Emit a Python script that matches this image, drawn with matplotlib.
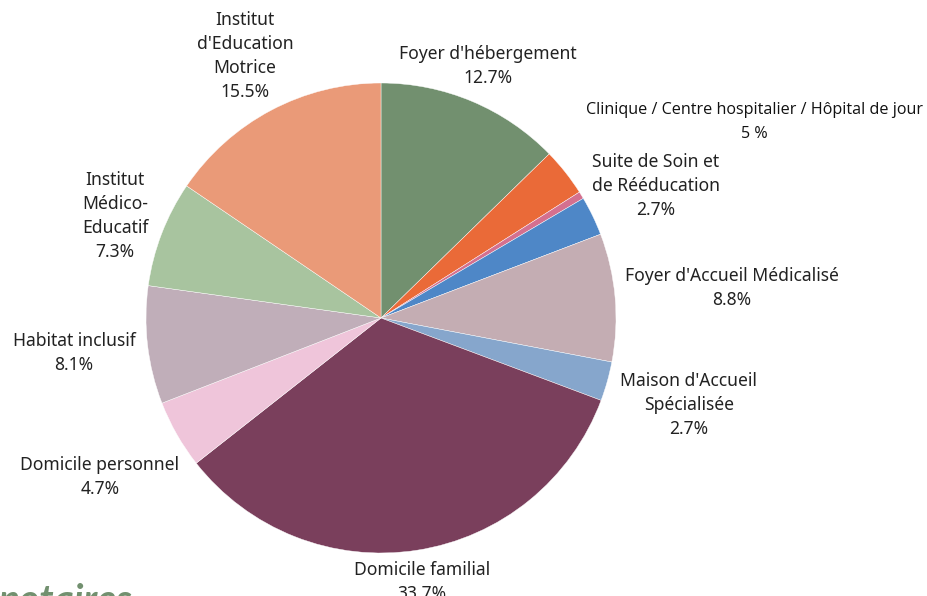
import matplotlib
matplotlib.use("Agg")
import matplotlib.pyplot as plt

categories = [
    "Foyer d'hébergement",
    "Clinique / Centre hospitalier / Hôpital de jour",
    "Autre",
    "Suite de Soin et\nde Rééducation",
    "Foyer d'Accueil Médicalisé",
    "Maison d'Accueil\nSpécialisée",
    "Domicile familial",
    "Domicile personnel",
    "Habitat inclusif",
    "Institut\nMédico-\nEducatif",
    "Institut\nd'Education\nMotrice",
]
values = [12.7, 3.3, 0.5, 2.7, 8.8, 2.7, 33.7, 4.7, 8.1, 7.3, 15.5]
pct_labels = ["12.7%", "5 %", "", "2.7%", "8.8%", "2.7%", "33.7%", "4.7%", "8.1%", "7.3%", "15.5%"]
colors = ["#72906F", "#EA6A38", "#D4708F", "#4E87C7", "#C4ADB3", "#86A6CC",
          "#7A3F5C", "#EFC5DA", "#C0AEB9", "#A8C49F", "#EA9A78"]

# label centres in pixel coordinates of the figure (layout only)
label_px = [(488, 66), (754, 122), None, (656, 186), (732, 288), (689, 405),
            (422, 582), (100, 477), (74, 353), (115, 216), (245, 56)]

W, H = 927, 596
fig = plt.figure(figsize=(W / 100, H / 100), dpi=100)
cx, cy, r = 381, 318, 235
ax = fig.add_axes([(cx - r) / W, (H - cy - r) / H, 2 * r / W, 2 * r / H])
ax.pie(values, colors=colors, startangle=90, counterclock=False, radius=1,
       wedgeprops=dict(edgecolor="white", linewidth=0.3))
ax.set_xlim(-1, 1)
ax.set_ylim(-1, 1)
ax.set_aspect("equal")
ax.axis("off")

font = ["Noto Sans", "DejaVu Sans"]
for cat, pct, pos in zip(categories, pct_labels, label_px):
    if pos is None:
        continue
    x, y = pos
    if cat.startswith("Clinique"):
        fig.text(x / W, 1 - y / H, cat + "\n" + pct, ha="center", va="center",
                 fontsize=11.6, family=["Open Sans", "DejaVu Sans"], color="#111111",
                 linespacing=1.6)
    else:
        fig.text(x / W, 1 - y / H, cat + "\n" + pct, ha="center", va="center",
                 fontsize=12.6, family=font, color="#222222", linespacing=1.42)

# partial watermark at bottom-left
fig.text(-2 / W, -22 / H, "notaires", ha="left", va="bottom", fontsize=28,
         style="italic", weight="bold", color="#72906F", family=["Lato", "DejaVu Sans"])

fig.savefig("out.png", dpi=100)
